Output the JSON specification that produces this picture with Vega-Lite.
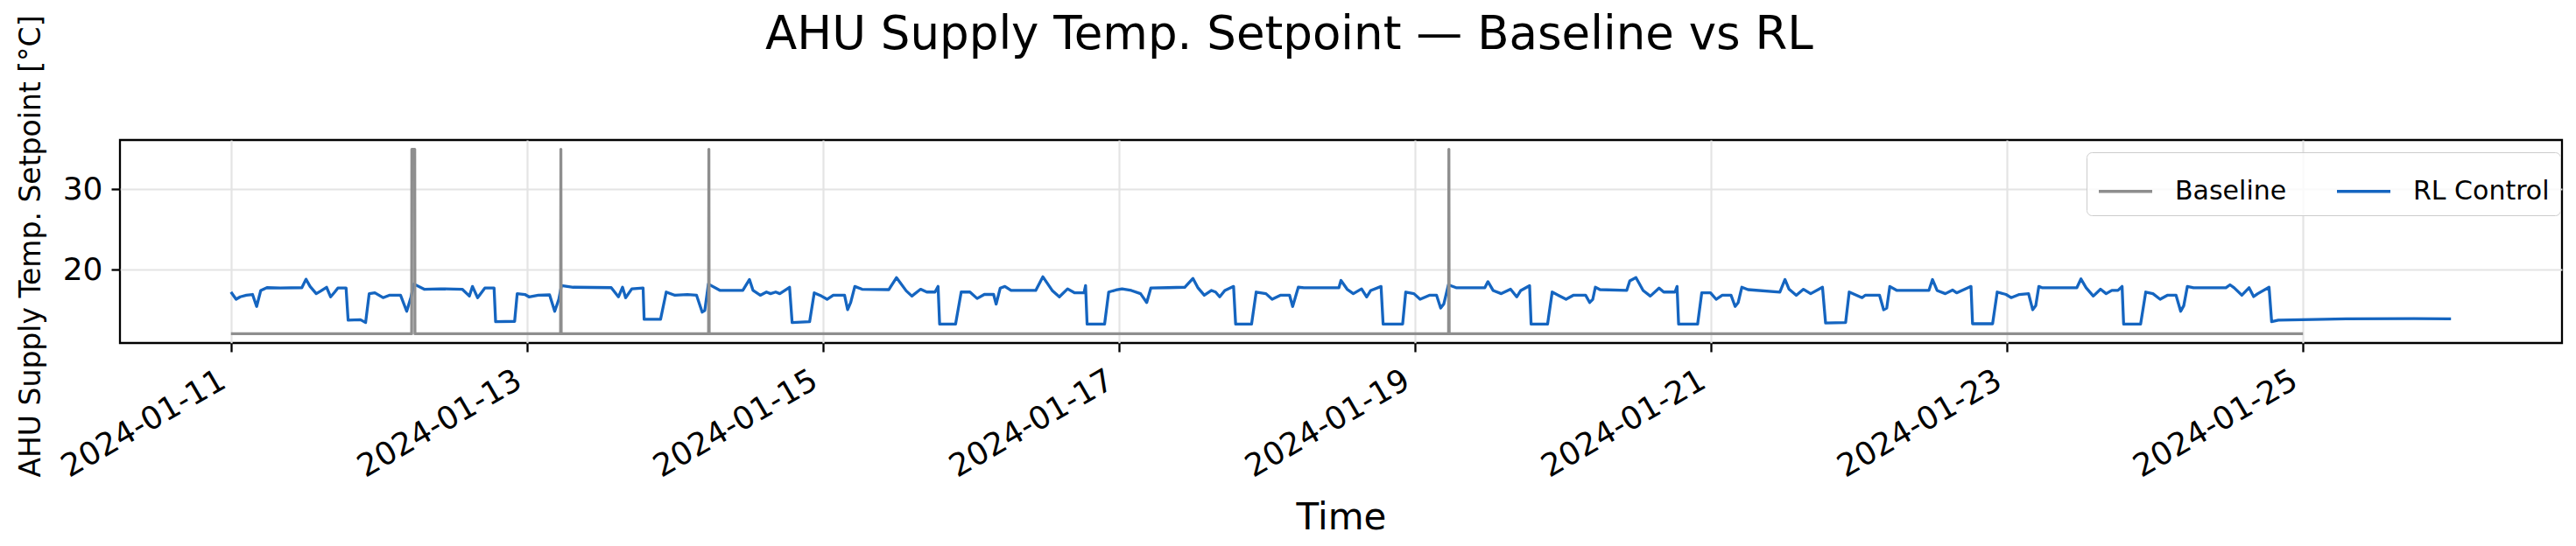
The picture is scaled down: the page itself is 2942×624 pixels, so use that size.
{
  "$schema": "https://vega.github.io/schema/vega-lite/v6.json",
  "autosize": {"type": "none"},
  "width": 2789,
  "height": 232,
  "padding": {"left": 137, "top": 160, "right": 16, "bottom": 232},
  "background": "white",
  "title": {
    "text": "AHU Supply Temp. Setpoint — Baseline vs RL",
    "fontSize": 53,
    "fontWeight": "normal",
    "font": "DejaVu Sans",
    "color": "#000",
    "anchor": "middle",
    "frame": "bounds",
    "offset": 0,
    "baseline": "alphabetic",
    "dy": 92
  },
  "datasets": {
    "rl": [
      {"t":"2024-01-11T00:00","v":17.2},{"t":"2024-01-11T00:50","v":16.3},{"t":"2024-01-11T01:30","v":16.6},{"t":"2024-01-11T02:30","v":16.8},{"t":"2024-01-11T03:30","v":16.9},{"t":"2024-01-11T04:10","v":15.4},{"t":"2024-01-11T04:50","v":17.4},{"t":"2024-01-11T05:50","v":17.75},{"t":"2024-01-11T08:00","v":17.7},{"t":"2024-01-11T11:30","v":17.75},{"t":"2024-01-11T12:10","v":18.8},{"t":"2024-01-11T12:50","v":17.9},{"t":"2024-01-11T13:50","v":17.0},{"t":"2024-01-11T14:30","v":17.3},{"t":"2024-01-11T15:30","v":17.8},{"t":"2024-01-11T16:10","v":16.6},{"t":"2024-01-11T16:50","v":17.2},{"t":"2024-01-11T17:20","v":17.7},{"t":"2024-01-11T18:40","v":17.7},{"t":"2024-01-11T19:00","v":13.7},{"t":"2024-01-11T21:00","v":13.75},{"t":"2024-01-11T21:50","v":13.4},{"t":"2024-01-11T22:25","v":17.0},{"t":"2024-01-11T23:20","v":17.1},
      {"t":"2024-01-12T00:40","v":16.5},{"t":"2024-01-12T01:40","v":16.8},{"t":"2024-01-12T03:30","v":16.8},{"t":"2024-01-12T04:30","v":14.8},{"t":"2024-01-12T05:10","v":16.5},{"t":"2024-01-12T05:40","v":18.2},{"t":"2024-01-12T07:20","v":17.55},{"t":"2024-01-12T10:00","v":17.6},{"t":"2024-01-12T13:30","v":17.55},{"t":"2024-01-12T14:40","v":16.7},{"t":"2024-01-12T15:10","v":17.9},{"t":"2024-01-12T16:00","v":16.5},{"t":"2024-01-12T17:10","v":17.7},{"t":"2024-01-12T18:40","v":17.7},{"t":"2024-01-12T18:55","v":13.5},{"t":"2024-01-12T22:00","v":13.55},{"t":"2024-01-12T22:25","v":17.0},{"t":"2024-01-12T23:40","v":16.9},
      {"t":"2024-01-13T00:20","v":16.6},{"t":"2024-01-13T01:50","v":16.8},{"t":"2024-01-13T03:40","v":16.85},{"t":"2024-01-13T04:30","v":14.8},{"t":"2024-01-13T05:10","v":16.3},{"t":"2024-01-13T05:35","v":18.0},{"t":"2024-01-13T07:30","v":17.8},{"t":"2024-01-13T13:40","v":17.75},{"t":"2024-01-13T14:50","v":16.6},{"t":"2024-01-13T15:30","v":17.8},{"t":"2024-01-13T16:00","v":16.5},{"t":"2024-01-13T17:00","v":17.6},{"t":"2024-01-13T18:50","v":17.7},{"t":"2024-01-13T19:00","v":13.8},{"t":"2024-01-13T21:40","v":13.8},{"t":"2024-01-13T22:35","v":17.2},
      {"t":"2024-01-14T00:00","v":16.8},{"t":"2024-01-14T02:00","v":16.9},{"t":"2024-01-14T03:30","v":16.8},{"t":"2024-01-14T04:25","v":14.7},{"t":"2024-01-14T04:50","v":14.9},{"t":"2024-01-14T05:25","v":18.2},{"t":"2024-01-14T07:20","v":17.4},{"t":"2024-01-14T11:00","v":17.4},{"t":"2024-01-14T12:05","v":18.76},{"t":"2024-01-14T12:40","v":17.4},{"t":"2024-01-14T13:50","v":16.8},{"t":"2024-01-14T14:50","v":17.2},{"t":"2024-01-14T15:30","v":17.0},{"t":"2024-01-14T16:20","v":17.2},{"t":"2024-01-14T17:00","v":17.0},{"t":"2024-01-14T18:35","v":17.8},{"t":"2024-01-14T19:00","v":13.4},{"t":"2024-01-14T21:50","v":13.5},{"t":"2024-01-14T22:35","v":17.1},{"t":"2024-01-14T23:45","v":16.7},
      {"t":"2024-01-15T00:40","v":16.3},{"t":"2024-01-15T01:40","v":16.8},{"t":"2024-01-15T03:30","v":16.8},{"t":"2024-01-15T04:00","v":15.0},{"t":"2024-01-15T04:30","v":15.9},{"t":"2024-01-15T05:10","v":17.9},{"t":"2024-01-15T06:20","v":17.55},{"t":"2024-01-15T10:40","v":17.5},{"t":"2024-01-15T11:55","v":19.0},{"t":"2024-01-15T13:30","v":17.35},{"t":"2024-01-15T14:25","v":16.7},{"t":"2024-01-15T15:50","v":17.55},{"t":"2024-01-15T16:50","v":17.2},{"t":"2024-01-15T18:10","v":17.2},{"t":"2024-01-15T18:40","v":17.9},{"t":"2024-01-15T18:55","v":13.2},{"t":"2024-01-15T21:30","v":13.2},{"t":"2024-01-15T22:25","v":17.2},{"t":"2024-01-15T23:50","v":17.2},
      {"t":"2024-01-16T01:00","v":16.4},{"t":"2024-01-16T02:10","v":16.9},{"t":"2024-01-16T03:40","v":16.9},{"t":"2024-01-16T04:05","v":15.7},{"t":"2024-01-16T04:45","v":17.7},{"t":"2024-01-16T05:30","v":17.9},{"t":"2024-01-16T06:30","v":17.4},{"t":"2024-01-16T10:30","v":17.4},{"t":"2024-01-16T11:40","v":19.1},{"t":"2024-01-16T13:10","v":17.4},{"t":"2024-01-16T14:20","v":16.6},{"t":"2024-01-16T15:40","v":17.6},{"t":"2024-01-16T16:50","v":17.1},{"t":"2024-01-16T18:20","v":17.1},{"t":"2024-01-16T18:35","v":18.0},{"t":"2024-01-16T18:50","v":13.2},{"t":"2024-01-16T21:40","v":13.2},{"t":"2024-01-16T22:20","v":17.2},{"t":"2024-01-16T23:30","v":17.45},
      {"t":"2024-01-17T00:30","v":17.6},{"t":"2024-01-17T02:00","v":17.4},{"t":"2024-01-17T03:30","v":17.0},{"t":"2024-01-17T04:30","v":15.9},{"t":"2024-01-17T05:10","v":17.7},{"t":"2024-01-17T08:00","v":17.75},{"t":"2024-01-17T10:40","v":17.8},{"t":"2024-01-17T12:00","v":18.9},{"t":"2024-01-17T12:50","v":17.7},{"t":"2024-01-17T13:50","v":16.8},{"t":"2024-01-17T15:00","v":17.4},{"t":"2024-01-17T15:40","v":17.2},{"t":"2024-01-17T16:20","v":16.6},{"t":"2024-01-17T17:10","v":17.4},{"t":"2024-01-17T18:35","v":17.9},{"t":"2024-01-17T18:55","v":13.2},{"t":"2024-01-17T21:30","v":13.2},{"t":"2024-01-17T22:15","v":17.2},{"t":"2024-01-17T23:50","v":17.0},
      {"t":"2024-01-18T00:50","v":16.3},{"t":"2024-01-18T02:10","v":16.8},{"t":"2024-01-18T03:40","v":16.8},{"t":"2024-01-18T04:10","v":15.4},{"t":"2024-01-18T05:05","v":17.8},{"t":"2024-01-18T06:00","v":17.74},{"t":"2024-01-18T11:40","v":17.74},{"t":"2024-01-18T12:00","v":18.65},{"t":"2024-01-18T13:00","v":17.55},{"t":"2024-01-18T14:00","v":17.0},{"t":"2024-01-18T15:20","v":17.6},{"t":"2024-01-18T16:10","v":16.6},{"t":"2024-01-18T16:50","v":17.4},{"t":"2024-01-18T18:30","v":17.9},{"t":"2024-01-18T18:50","v":13.2},{"t":"2024-01-18T22:00","v":13.2},{"t":"2024-01-18T22:30","v":17.2},{"t":"2024-01-18T23:50","v":17.0},
      {"t":"2024-01-19T00:50","v":16.3},{"t":"2024-01-19T02:20","v":16.8},{"t":"2024-01-19T03:30","v":16.8},{"t":"2024-01-19T04:10","v":15.2},{"t":"2024-01-19T04:40","v":15.7},{"t":"2024-01-19T05:25","v":18.1},{"t":"2024-01-19T06:40","v":17.74},{"t":"2024-01-19T11:20","v":17.74},{"t":"2024-01-19T11:50","v":18.5},{"t":"2024-01-19T12:40","v":17.4},{"t":"2024-01-19T14:00","v":17.0},{"t":"2024-01-19T15:30","v":17.55},{"t":"2024-01-19T16:30","v":16.6},{"t":"2024-01-19T17:10","v":17.4},{"t":"2024-01-19T18:35","v":18.0},{"t":"2024-01-19T18:50","v":13.2},{"t":"2024-01-19T21:30","v":13.2},{"t":"2024-01-19T22:15","v":17.2},
      {"t":"2024-01-20T00:30","v":16.3},{"t":"2024-01-20T01:40","v":16.8},{"t":"2024-01-20T03:40","v":16.8},{"t":"2024-01-20T04:20","v":15.9},{"t":"2024-01-20T04:50","v":16.3},{"t":"2024-01-20T05:15","v":17.8},{"t":"2024-01-20T06:00","v":17.5},{"t":"2024-01-20T10:20","v":17.4},{"t":"2024-01-20T10:50","v":18.6},{"t":"2024-01-20T11:50","v":19.0},{"t":"2024-01-20T13:00","v":17.4},{"t":"2024-01-20T14:10","v":16.7},{"t":"2024-01-20T15:35","v":17.7},{"t":"2024-01-20T16:20","v":17.2},{"t":"2024-01-20T18:10","v":17.2},{"t":"2024-01-20T18:30","v":17.9},{"t":"2024-01-20T18:45","v":13.2},{"t":"2024-01-20T21:50","v":13.2},{"t":"2024-01-20T22:30","v":17.1},{"t":"2024-01-20T23:55","v":17.1},
      {"t":"2024-01-21T00:50","v":16.3},{"t":"2024-01-21T01:50","v":16.8},{"t":"2024-01-21T03:15","v":16.8},{"t":"2024-01-21T03:55","v":15.4},{"t":"2024-01-21T04:25","v":15.9},{"t":"2024-01-21T05:00","v":17.8},{"t":"2024-01-21T06:00","v":17.5},{"t":"2024-01-21T11:10","v":17.2},{"t":"2024-01-21T12:00","v":18.76},{"t":"2024-01-21T12:40","v":17.55},{"t":"2024-01-21T13:50","v":16.8},{"t":"2024-01-21T15:00","v":17.55},{"t":"2024-01-21T16:10","v":17.0},{"t":"2024-01-21T18:05","v":17.8},{"t":"2024-01-21T18:35","v":13.35},{"t":"2024-01-21T21:50","v":13.4},{"t":"2024-01-21T22:25","v":17.2},
      {"t":"2024-01-22T00:30","v":16.5},{"t":"2024-01-22T01:00","v":16.8},{"t":"2024-01-22T03:20","v":16.8},{"t":"2024-01-22T04:00","v":15.0},{"t":"2024-01-22T04:30","v":15.2},{"t":"2024-01-22T05:00","v":17.9},{"t":"2024-01-22T06:10","v":17.4},{"t":"2024-01-22T11:20","v":17.4},{"t":"2024-01-22T11:55","v":18.76},{"t":"2024-01-22T12:40","v":17.4},{"t":"2024-01-22T14:00","v":17.0},{"t":"2024-01-22T15:10","v":17.45},{"t":"2024-01-22T15:50","v":17.1},{"t":"2024-01-22T18:10","v":17.9},{"t":"2024-01-22T18:25","v":13.25},{"t":"2024-01-22T21:40","v":13.25},{"t":"2024-01-22T22:25","v":17.2},{"t":"2024-01-22T23:50","v":16.9},
      {"t":"2024-01-23T00:40","v":16.5},{"t":"2024-01-23T02:00","v":16.9},{"t":"2024-01-23T03:30","v":17.0},{"t":"2024-01-23T04:10","v":15.0},{"t":"2024-01-23T04:40","v":15.5},{"t":"2024-01-23T05:10","v":17.9},{"t":"2024-01-23T05:40","v":17.74},{"t":"2024-01-23T11:20","v":17.74},{"t":"2024-01-23T12:00","v":18.83},{"t":"2024-01-23T12:50","v":17.74},{"t":"2024-01-23T14:00","v":16.7},{"t":"2024-01-23T15:10","v":17.55},{"t":"2024-01-23T16:05","v":17.0},{"t":"2024-01-23T17:00","v":17.4},{"t":"2024-01-23T18:00","v":17.4},{"t":"2024-01-23T18:40","v":17.9},{"t":"2024-01-23T18:55","v":13.2},{"t":"2024-01-23T21:40","v":13.2},{"t":"2024-01-23T22:30","v":17.2},{"t":"2024-01-23T23:40","v":17.0},
      {"t":"2024-01-24T00:50","v":16.3},{"t":"2024-01-24T02:00","v":16.8},{"t":"2024-01-24T03:25","v":16.8},{"t":"2024-01-24T04:10","v":14.8},{"t":"2024-01-24T04:40","v":15.5},{"t":"2024-01-24T05:15","v":17.9},{"t":"2024-01-24T06:15","v":17.74},{"t":"2024-01-24T11:30","v":17.74},{"t":"2024-01-24T12:10","v":18.1},{"t":"2024-01-24T12:50","v":17.74},{"t":"2024-01-24T14:05","v":16.8},{"t":"2024-01-24T15:15","v":17.74},{"t":"2024-01-24T16:00","v":16.64},{"t":"2024-01-24T16:40","v":17.0},{"t":"2024-01-24T18:30","v":17.8},{"t":"2024-01-24T18:55","v":13.5},{"t":"2024-01-24T20:00","v":13.7},{"t":"2024-01-24T23:50","v":13.75},
      {"t":"2024-01-25T07:00","v":13.87},{"t":"2024-01-25T18:00","v":13.88},{"t":"2024-01-26T00:00","v":13.87}
    ],
    "base": [
      {"t":"2024-01-11T00:00","v":12},
      {"t":"2024-01-12T05:18","v":12},{"t":"2024-01-12T05:20","v":35},{"t":"2024-01-12T05:48","v":35},{"t":"2024-01-12T05:50","v":12},
      {"t":"2024-01-13T05:27","v":12},{"t":"2024-01-13T05:30","v":35},{"t":"2024-01-13T05:33","v":12},
      {"t":"2024-01-14T05:27","v":12},{"t":"2024-01-14T05:30","v":35},{"t":"2024-01-14T05:33","v":12},
      {"t":"2024-01-19T05:27","v":12},{"t":"2024-01-19T05:30","v":35},{"t":"2024-01-19T05:33","v":12},
      {"t":"2024-01-25T00:00","v":12}
    ]
  },
  "encoding": {
    "x": {
      "field": "t",
      "type": "temporal",
      "scale": {
        "domain": [
          {"year": 2024, "month": 1, "date": 10, "hours": 6},
          {"year": 2024, "month": 1, "date": 26, "hours": 18}
        ],
        "nice": false
      },
      "axis": {
        "values": [
          {"year": 2024, "month": 1, "date": 11},
          {"year": 2024, "month": 1, "date": 13},
          {"year": 2024, "month": 1, "date": 15},
          {"year": 2024, "month": 1, "date": 17},
          {"year": 2024, "month": 1, "date": 19},
          {"year": 2024, "month": 1, "date": 21},
          {"year": 2024, "month": 1, "date": 23},
          {"year": 2024, "month": 1, "date": 25}
        ],
        "format": "%Y-%m-%d",
        "labelAngle": -30,
        "labelAlign": "right",
        "labelBaseline": "bottom",
        "labelPadding": 46,
        "labelFontSize": 36,
        "labelLimit": 1000,
        "labelFlush": false,
        "labelOverlap": false,
        "labelBound": false,
        "title": "Time",
        "titleFontSize": 42,
        "titleBaseline": "alphabetic",
        "titleY": 212
      }
    },
    "y": {
      "field": "v",
      "type": "quantitative",
      "scale": {"domain": [10.85, 36.15], "nice": false, "zero": false},
      "axis": {
        "values": [20, 30],
        "labelFontSize": 36,
        "labelPadding": 10,
        "title": "AHU Supply Temp. Setpoint [°C]",
        "titleFontSize": 33,
        "titleBaseline": "alphabetic",
        "titleX": -92,
        "titleY": 121,
        "titleLimit": 1000
      }
    }
  },
  "layer": [
    {
      "data": {"name": "rl"},
      "mark": {"type": "line", "strokeWidth": 3.3, "strokeJoin": "round"},
      "encoding": {
        "color": {
          "datum": "RL Control",
          "type": "nominal",
          "scale": {"domain": ["Baseline", "RL Control"], "range": ["#8e8e8e", "#1565C0"]},
          "legend": {
            "orient": "none",
            "legendX": 2246,
            "legendY": 14,
            "direction": "horizontal",
            "title": null,
            "symbolType": "stroke",
            "symbolSize": 3721,
            "symbolStrokeWidth": 3.3,
            "labelFontSize": 30,
            "labelOffset": 24,
            "columnPadding": 50,
            "padding": 12,
            "fillColor": "rgba(255,255,255,0.8)",
            "strokeColor": "#cccccc",
            "cornerRadius": 6
          }
        }
      }
    },
    {
      "data": {"name": "base"},
      "mark": {"type": "line", "strokeWidth": 3.3, "strokeJoin": "round"},
      "encoding": {
        "color": {"datum": "Baseline", "type": "nominal"}
      }
    }
  ],
  "config": {
    "font": "DejaVu Sans",
    "view": {"stroke": "#000", "strokeWidth": 2.3},
    "axis": {
      "domain": false,
      "tickColor": "#000",
      "tickWidth": 2.3,
      "tickSize": 10,
      "labelColor": "#000",
      "titleColor": "#000",
      "titleFontWeight": "normal",
      "gridColor": "#e4e4e4",
      "gridWidth": 2.2,
      "labelFont": "DejaVu Sans",
      "titleFont": "DejaVu Sans"
    },
    "legend": {"labelColor": "#000", "labelFont": "DejaVu Sans"}
  }
}
